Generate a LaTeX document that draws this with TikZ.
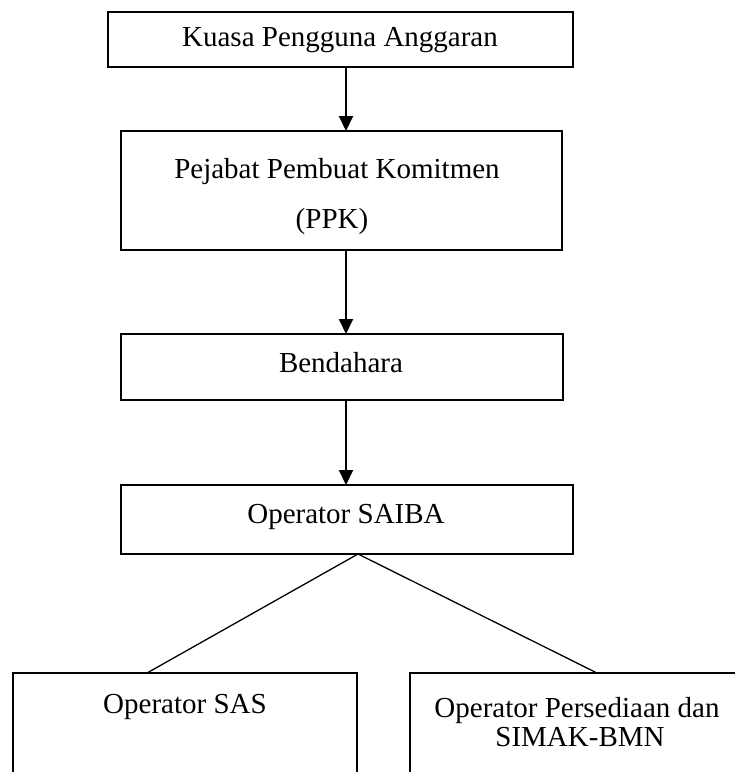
\documentclass[tikz,border=0pt]{standalone}
\usepackage{fontspec}
\setmainfont{Liberation Serif}
\usetikzlibrary{arrows.meta}
\begin{document}
\begin{tikzpicture}[x=1pt,y=-1pt]
\tikzset{
  box/.style={draw, line width=1.5pt, inner sep=0pt, outer sep=0pt, rectangle},
  txt/.style={anchor=base, inner sep=0pt, font=\fontsize{29}{35}\selectfont},
  arr/.style={line width=2pt, -{Triangle[length=15pt,width=14pt]}},
  link/.style={line width=1.3pt}
}
\useasboundingbox (0,0) rectangle (735,772);
\clip (0,0) rectangle (735,772);
% boxes
\node[box, minimum width=465pt, minimum height=55pt] (kpa) at (340.5,39.5) {};
\node[box, minimum width=441pt, minimum height=119pt] (ppk) at (341.5,190.5) {};
\node[box, minimum width=442pt, minimum height=66pt] (bend) at (342,367) {};
\node[box, minimum width=452pt, minimum height=69pt] (saiba) at (347,519.5) {};
\node[box, minimum width=344pt, minimum height=127pt] (sas) at (185,736.5) {};
\node[box, minimum width=335pt, minimum height=127pt] (pers) at (577.5,736.5) {};
% texts
\node[txt] (tkpa) at (340,46.5) {Kuasa Pengguna Anggaran};
\node[txt] (tppk1) at (337,178) {Pejabat Pembuat Komitmen};
\node[txt] (tppk2) at (332,228) {(PPK)};
\node[txt] (tbend) at (341,372) {Bendahara};
\node[txt] (tsaiba) at (346,523) {Operator SAIBA};
\node[txt] (tsas) at (185,713) {Operator SAS};
\node[txt] (tpers1) at (577,717) {Operator Persediaan dan};
\node[txt] (tpers2) at (580,746) {SIMAK-BMN};
% connectors
\coordinate (ax) at (346,0);
\coordinate (apx) at (358,0);
\coordinate (lx) at (147,0);
\coordinate (rx) at (597,0);
\draw[arr] (ax |- kpa.south) -- (ax |- ppk.north);
\draw[arr] (ax |- ppk.south) -- (ax |- bend.north);
\draw[arr] (ax |- bend.south) -- (ax |- saiba.north);
\draw[link] (lx |- sas.north) -- (apx |- saiba.south) -- (rx |- pers.north);
\end{tikzpicture}
\end{document}
